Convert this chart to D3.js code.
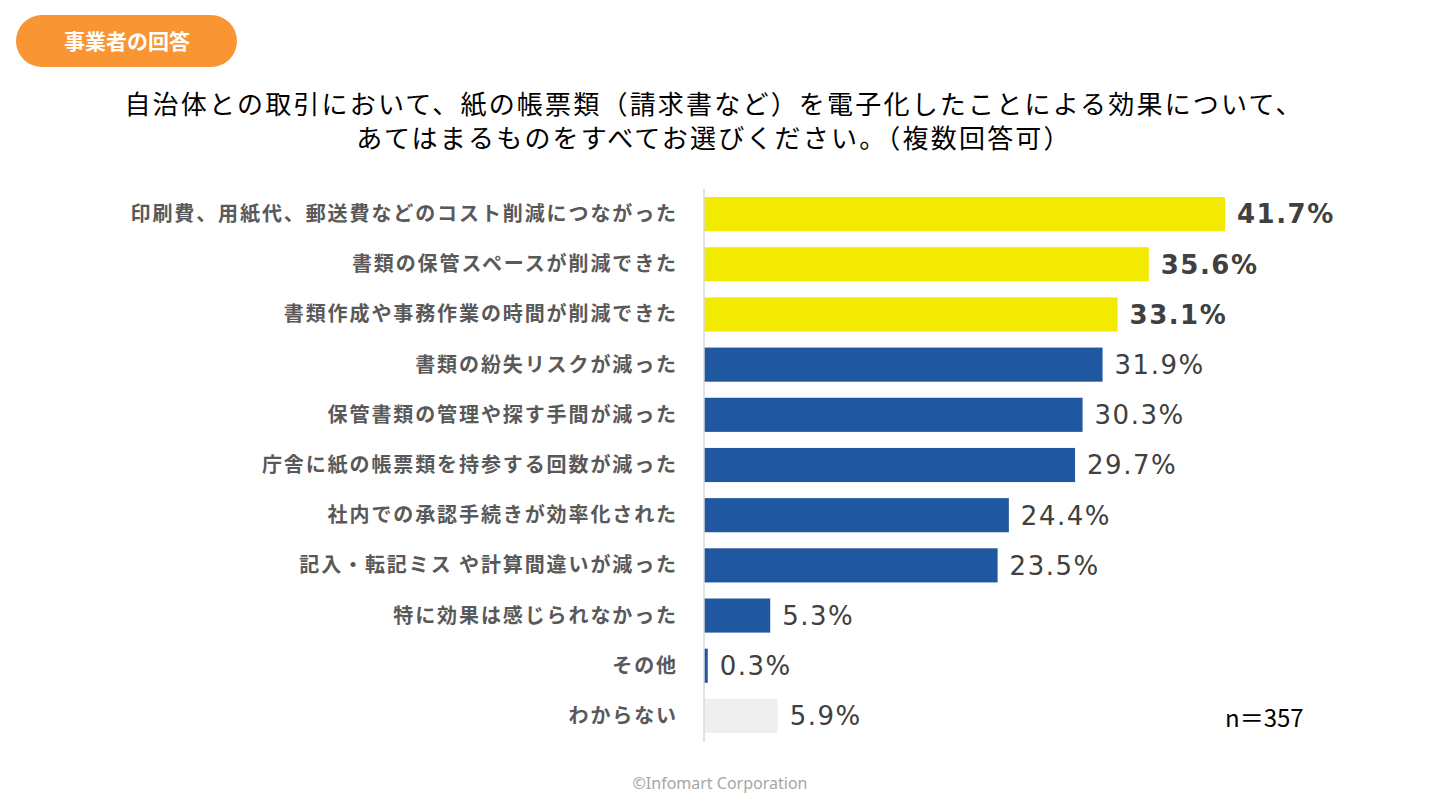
<!DOCTYPE html>
<html lang="ja">
<head>
<meta charset="utf-8">
<script src="https://cdn.jsdelivr.net/npm/d3@7"></script>
<style>
  html, body { margin: 0; padding: 0; background: #fff; }
  svg { display: block; font-family: "Noto Sans CJK JP", "Noto Sans", sans-serif; }
</style>
</head>
<body>
<svg width="1440" height="810"></svg>
<script>
const categories = [
  '印刷費、用紙代、郵送費などのコスト削減につながった',
  '書類の保管スペースが削減できた',
  '書類作成や事務作業の時間が削減できた',
  '書類の紛失リスクが減った',
  '保管書類の管理や探す手間が減った',
  '庁舎に紙の帳票類を持参する回数が減った',
  '社内での承認手続きが効率化された',
  '記入・転記ミス や計算間違いが減った',
  '特に効果は感じられなかった',
  'その他',
  'わからない'
];
const values = [41.7, 35.6, 33.1, 31.9, 30.3, 29.7, 24.4, 23.5, 5.3, 0.3, 5.9];
// top three highlighted, "わからない" greyed out
const groups = ['top', 'top', 'top', 'base', 'base', 'base', 'base', 'base', 'base', 'base', 'unknown'];
const titleLines = [
  '自治体との取引において、紙の帳票類（請求書など）を電子化したことによる効果について、',
  'あてはまるものをすべてお選びください。（複数回答可）'
];

const svg = d3.select('svg');

const colors = { top: '#F2EA00', base: '#1F58A0', unknown: '#EFEFEF' };

// badge
svg.append('rect')
  .attr('x', 16).attr('y', 15)
  .attr('width', 221).attr('height', 52)
  .attr('rx', 26)
  .attr('fill', '#F99533');
svg.append('text')
  .attr('x', 127).attr('y', 49)
  .attr('text-anchor', 'middle')
  .attr('fill', '#fff')
  .attr('font-size', 21)
  .attr('font-weight', 'bold')
  .text('事業者の回答');

// title
svg.append('g').selectAll('text')
  .data(titleLines)
  .enter()
  .append('text')
  .attr('x', 714)
  .attr('y', (d, i) => 114 + i * 34)
  .attr('text-anchor', 'middle')
  .attr('font-size', 26)
  .attr('letter-spacing', 2.2)
  .attr('fill', '#000')
  .text(d => d);

const x = d3.scaleLinear().domain([0, 41.7]).range([704, 1225]);
const y = d3.scaleBand()
  .domain(categories)
  .range([189, 741])
  .paddingInner(0.32)
  .paddingOuter(0.16);

const chart = svg.append('g');

chart.selectAll('rect.bar')
  .data(values)
  .enter()
  .append('rect')
  .attr('class', 'bar')
  .attr('x', x(0))
  .attr('y', (d, i) => y(categories[i]))
  .attr('width', d => x(d) - x(0))
  .attr('height', y.bandwidth())
  .attr('fill', (d, i) => colors[groups[i]]);

// axis line
chart.append('line')
  .attr('x1', x(0)).attr('x2', x(0))
  .attr('y1', 189).attr('y2', 742)
  .attr('stroke', '#D9D9D9')
  .attr('stroke-width', 1.5);

// category labels
chart.selectAll('text.cat')
  .data(categories)
  .enter()
  .append('text')
  .attr('class', 'cat')
  .attr('x', 678)
  .attr('y', d => y(d) + y.bandwidth() / 2)
  .attr('dy', '0.35em')
  .attr('text-anchor', 'end')
  .attr('font-size', 20)
  .attr('letter-spacing', 1.9)
  .attr('font-weight', 'bold')
  .attr('fill', '#595959')
  .text(d => d);

// value labels
chart.selectAll('text.val')
  .data(values)
  .enter()
  .append('text')
  .attr('class', 'val')
  .attr('x', d => x(d) + 12)
  .attr('y', (d, i) => y(categories[i]) + y.bandwidth() / 2)
  .attr('dy', '0.36em')
  .attr('font-family', '"DejaVu Sans", "Noto Sans", sans-serif')
  .attr('font-size', 26)
  .attr('letter-spacing', 1.5)
  .attr('font-weight', (d, i) => groups[i] === 'top' ? 'bold' : 'normal')
  .attr('fill', '#404040')
  .text(d => d.toFixed(1) + '%');

svg.append('text')
  .attr('x', 1225).attr('y', 727)
  .attr('font-size', 24)
  .attr('fill', '#000')
  .text('n＝357');

svg.append('text')
  .attr('x', 720).attr('y', 789)
  .attr('text-anchor', 'middle')
  .attr('font-family', '"Noto Sans", sans-serif')
  .attr('font-size', 16)
  .attr('fill', '#A6A6A6')
  .text('©Infomart Corporation');
</script>
</body>
</html>
